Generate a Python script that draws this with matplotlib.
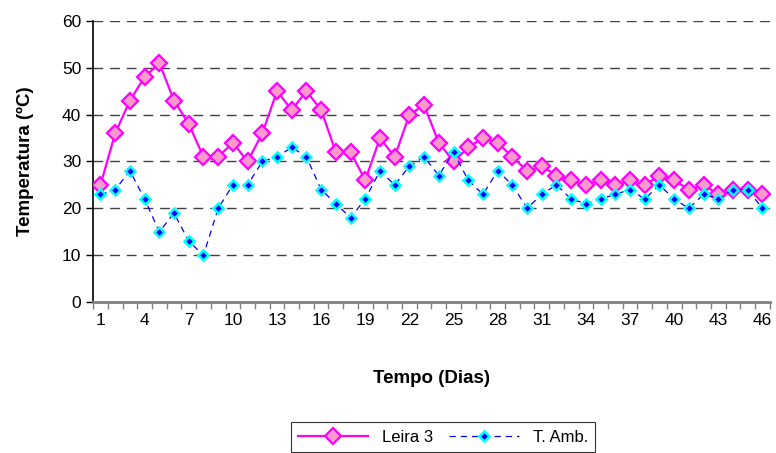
import matplotlib.pyplot as plt
import numpy as np

plt.rcParams["font.family"] = ["Liberation Sans", "DejaVu Sans"]

days = np.arange(1, 47)
leira3 = [25, 36, 43, 48, 51, 43, 38, 31, 31, 34, 30, 36, 45, 41, 45, 41,
          32, 32, 26, 35, 31, 40, 42, 34, 30, 33, 35, 34, 31, 28, 29, 27,
          26, 25, 26, 25, 26, 25, 27, 26, 24, 25, 23, 24, 24, 23]
t_amb = [23, 24, 28, 22, 15, 19, 13, 10, 20, 25, 25, 30, 31, 33, 31, 24,
         21, 18, 22, 28, 25, 29, 31, 27, 32, 26, 23, 28, 25, 20, 23, 25,
         22, 21, 22, 23, 24, 22, 25, 22, 20, 23, 22, 24, 24, 20]
tick_days = list(range(1, 47, 3))

fig = plt.figure(figsize=(7.76, 4.53), dpi=100)
ax = fig.add_axes([0.12, 0.333, 0.872, 0.621])

ax.plot(days, leira3, color="#ff00ff", lw=1.6, marker="D", ms=8,
        mfc="#ff99cc", mec="#ff00ff", mew=1.6, label="Leira 3", zorder=3)
ax.plot(days, t_amb, color="#0000ff", lw=0.9, ls=(0, (5, 4)), marker="D",
        ms=5.5, mfc="#0000ff", mec="#00ffff", mew=1.8, label="T. Amb.", zorder=4)

ax.set_xlim(0.5, 46.5)
ax.set_ylim(0, 60)
ax.set_yticks(range(0, 61, 10))
ax.set_xticks(tick_days)
ax.set_xticks(np.arange(0.5, 47, 1), minor=True)
ax.tick_params(axis="x", which="major", length=0, labelsize=12.5, pad=8)
ax.tick_params(axis="x", which="minor", length=5, width=1, color="#808080")
ax.tick_params(axis="y", length=5, width=1, labelsize=12.5)

for v in range(10, 61, 10):
    ax.axhline(v, color="#404040", lw=1, ls=(0, (7, 5)), zorder=1)

for s in ["top", "right"]:
    ax.spines[s].set_visible(False)
ax.spines["left"].set_linewidth(1.2)
ax.spines["bottom"].set_color("#808080")
ax.spines["bottom"].set_linewidth(2)

ax.set_ylabel("Temperatura (ºC)", fontsize=13.5, fontweight="bold", labelpad=20)
ax.set_xlabel("Tempo (Dias)", fontsize=13.5, fontweight="bold", labelpad=30)

leg = fig.legend(loc="upper center", bbox_to_anchor=(0.571, 0.068), ncol=2,
                 fontsize=12, frameon=True, fancybox=False, edgecolor="black",
                 handlelength=4.2, columnspacing=1.0, borderaxespad=0,
                 borderpad=0.45)
leg.get_frame().set_linewidth(0.8)

fig.savefig("out.png", dpi=100)
